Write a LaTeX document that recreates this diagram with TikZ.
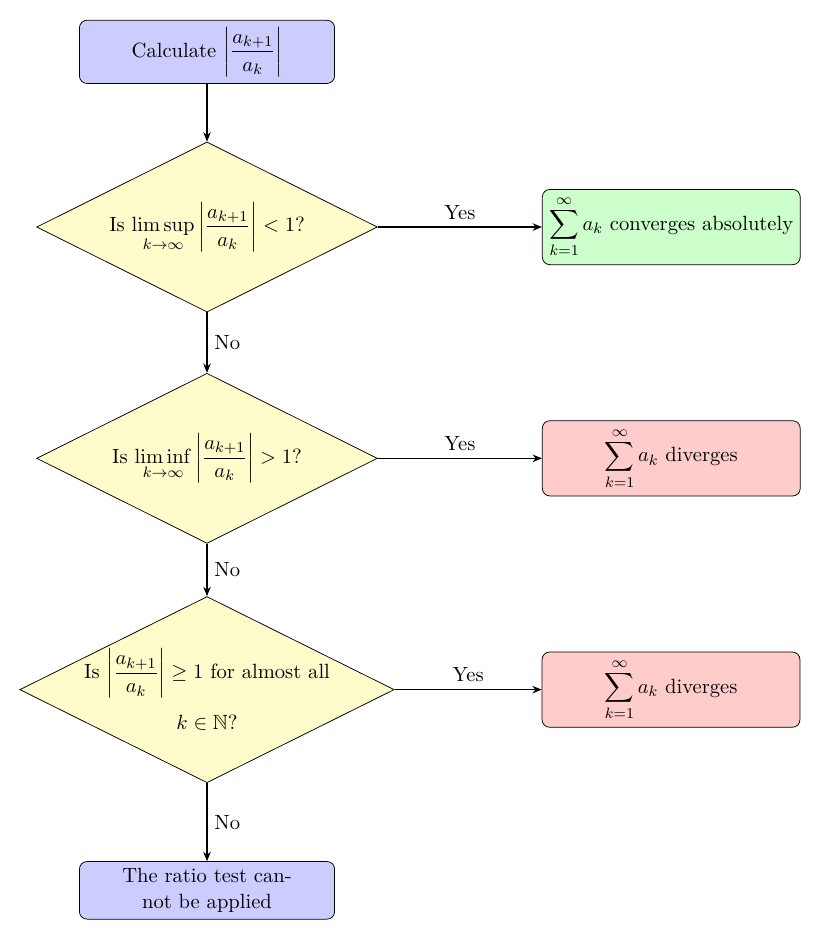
\documentclass[tikz,border=0pt,11pt]{standalone}
\usepackage{amsmath,amssymb}
\usepackage{tikz}
\usetikzlibrary{positioning, arrows.meta, shapes.geometric}

\begin{document}
\begin{tikzpicture}[
  node distance=1.1cm and 3.07cm,
  block/.style={draw, fill=blue!20, rounded corners=4pt,
                minimum width=4.77cm, minimum height=1.16cm, align=center},
  decision/.style={diamond, draw, fill=yellow!20, aspect=2, inner sep=0pt,
                   minimum width=6.37cm, minimum height=3.18cm, align=center},
  result/.style={draw, rounded corners=4pt,
                 minimum width=4.82cm, minimum height=1.36cm, align=center},
  arr/.style={-{Stealth[length=5pt, width=4pt]}, semithick},
]
  \useasboundingbox (-3.87,0.97) rectangle (11.57,-16.64);

  \node[block] (calc) {Calculate $\left|\dfrac{a_{k+1}}{a_k}\right|$};
  \node[decision, below=1.08cm of calc] (limsup)
    {Is $\displaystyle\limsup_{k\to\infty}\left|\frac{a_{k+1}}{a_k}\right| < 1$?};
  \node[decision, below=1.13cm of limsup] (liminf)
    {Is $\displaystyle\liminf_{k\to\infty}\left|\frac{a_{k+1}}{a_k}\right| > 1$?};
  \node[decision, below=0.98cm of liminf, inner sep=-3.6pt,
        minimum width=7cm, minimum height=3.48cm] (almost)
    {Is $\left|\dfrac{a_{k+1}}{a_k}\right| \geq 1$ for almost all\\[8pt] $k\in\mathbb{N}$?};
  \node[block, below=1.46cm of almost, minimum height=1.04cm] (fail)
    {The ratio test can-\\not be applied};

  \node[result, fill=green!20, right=of limsup] (conv)
    {$\displaystyle\sum_{k=1}^{\infty} a_k$ converges absolutely};
  \node[result, fill=red!20, right=of liminf] (div1)
    {$\displaystyle\sum_{k=1}^{\infty} a_k$ diverges};
  \node[result, fill=red!20, right=2.75cm of almost] (div2)
    {$\displaystyle\sum_{k=1}^{\infty} a_k$ diverges};

  \draw[arr] (calc) -- (limsup);
  \draw[arr] (limsup) -- node[right] {No} (liminf);
  \draw[arr] (liminf) -- node[right] {No} (almost);
  \draw[arr] (almost) -- node[right] {No} (fail);
  \draw[arr] (limsup) -- node[above] {Yes} (conv);
  \draw[arr] (liminf) -- node[above] {Yes} (div1);
  \draw[arr] (almost) -- node[above] {Yes} (div2);
\end{tikzpicture}
\end{document}
